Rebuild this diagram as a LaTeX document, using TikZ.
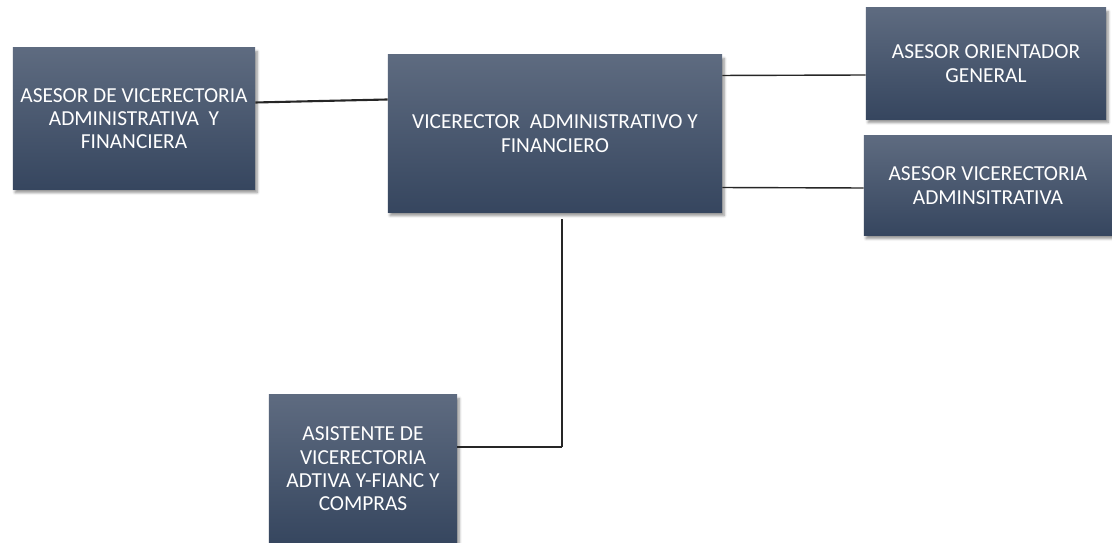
\documentclass[tikz,border=0pt]{standalone}
\usepackage{fontspec}
\setmainfont{Carlito}
\usetikzlibrary{shadows.blur}
\definecolor{boxtop}{HTML}{5E6B80}
\definecolor{boxbot}{HTML}{36465F}

\begin{document}
\begin{tikzpicture}[x=0.025cm, y=-0.025cm,
  box/.style = {top color=boxtop, bottom color=boxbot, draw=none, text=white,
    align=center, inner sep=0pt, font=\fontsize{15.2}{16.6}\selectfont,
    blur shadow={shadow xshift=1.5pt, shadow yshift=-2.5pt, shadow blur steps=6, shadow opacity=45}},
  link/.style = {line width=1pt, black!85}]
  \useasboundingbox (0,0) rectangle (1112,543);
  \node[box, minimum width=6.05cm, minimum height=3.525cm] (asesor) at (134,118.5) {ASESOR DE VICERECTORIA\\ADMINISTRATIVA\ \ Y\\FINANCIERA};
  \node[box, minimum width=8.35cm, minimum height=3.925cm] (vice) at (555,133.5) {VICERECTOR\ \ ADMINISTRATIVO Y\\FINANCIERO};
  \node[box, minimum width=6cm, minimum height=2.775cm] (orient) at (986,63.5) {ASESOR ORIENTADOR\\GENERAL};
  \node[box, minimum width=6.2cm, minimum height=2.475cm] (admin) at (988,185.5) {ASESOR VICERECTORIA\\ADMINSITRATIVA};
  \node[box, minimum width=4.7cm, minimum height=3.7cm] (asist) at (363,469) {ASISTENTE DE\\VICERECTORIA\\ADTIVA Y-FIANC Y\\COMPRAS};
  \coordinate (jn) at (562,447);
  \draw[link, line width=1.5pt] ([yshift=0.4cm]asesor.east) -- ([yshift=0.85cm]vice.west);
  \draw[link] ([yshift=1.45cm]vice.east) -- (orient.west |- 0,75);
  \draw[link] ([yshift=-1.35cm]vice.east) -- (admin.west |- 0,188);
  \draw[link] ([yshift=-0.18cm]vice.south -| jn) -- (jn);
  \draw[link] (jn) -- (asist.east |- jn);
\end{tikzpicture}
\end{document}
